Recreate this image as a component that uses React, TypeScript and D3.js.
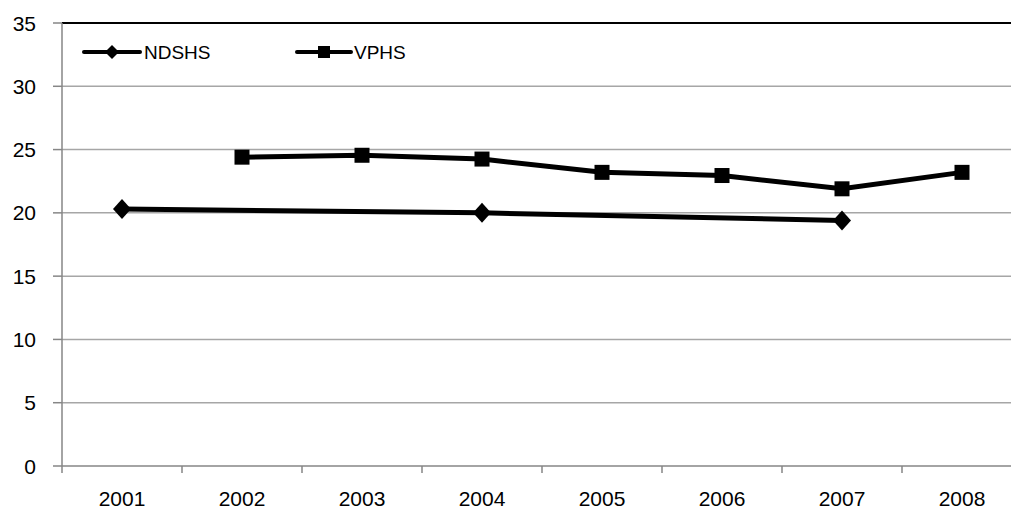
import React from "react";
import * as d3 from "d3";

const years = ["2001", "2002", "2003", "2004", "2005", "2006", "2007", "2008"];
const ndshs: (number | null)[] = [20.3, null, null, 20.0, null, null, 19.4, null];
const vphs: (number | null)[] = [null, 24.4, 24.55, 24.25, 23.2, 22.95, 21.9, 23.2];
const yTicks = [0, 5, 10, 15, 20, 25, 30, 35];

const W = 1011;
const H = 517;
const left = 62;
const top = 23;
const bottom = 466;
const band = 120;

export default function App() {
  const x = d3
    .scaleBand<string>()
    .domain(years)
    .range([left, left + band * years.length]);
  const y = d3.scaleLinear().domain([0, 35]).range([bottom, top]);
  const cx = (yr: string) => (x(yr) as number) + x.bandwidth() / 2;

  const pts = (arr: (number | null)[]) =>
    years
      .map((yr, i) => ({ yr, v: arr[i] }))
      .filter((d) => d.v !== null) as { yr: string; v: number }[];

  const line = d3
    .line<{ yr: string; v: number }>()
    .x((d) => cx(d.yr))
    .y((d) => y(d.v));

  const nd = pts(ndshs);
  const vp = pts(vphs);
  const font = "'Liberation Sans', Arial, sans-serif";

  const diamond = (px: number, py: number, rx: number, ry: number) =>
    `M${px},${py - ry}L${px + rx},${py}L${px},${py + ry}L${px - rx},${py}Z`;

  return (
    <svg
      width={W}
      height={H}
      style={{ position: "absolute", left: 0, top: 0, background: "#fff" }}
    >
      {yTicks.map((t) => (
        <g key={t}>
          {t > 0 && t < 35 && (
            <line x1={left} x2={W} y1={y(t)} y2={y(t)} stroke="#a6a6a6" strokeWidth={1.5} />
          )}
          <line x1={left - 9} x2={left} y1={y(t)} y2={y(t)} stroke="#868686" strokeWidth={1.5} />
          <text
            x={36}
            y={y(t)}
            textAnchor="end"
            dominantBaseline="central"
            fontFamily={font}
            fontSize={21}
            fill="#000"
          >
            {t}
          </text>
        </g>
      ))}
      <line x1={left} x2={W} y1={top} y2={top} stroke="#000" strokeWidth={2} />
      <line x1={left} x2={left} y1={top} y2={bottom + 7} stroke="#868686" strokeWidth={1.5} />
      <line x1={left} x2={W} y1={bottom} y2={bottom} stroke="#868686" strokeWidth={1.5} />
      {years.map((yr) => (
        <g key={yr}>
          <line
            x1={(x(yr) as number) + band}
            x2={(x(yr) as number) + band}
            y1={bottom}
            y2={bottom + 7}
            stroke="#868686"
            strokeWidth={1.5}
          />
          <text
            x={cx(yr)}
            y={498}
            textAnchor="middle"
            dominantBaseline="central"
            fontFamily={font}
            fontSize={21}
            fill="#000"
          >
            {yr}
          </text>
        </g>
      ))}
      <path d={line(nd) || ""} fill="none" stroke="#000" strokeWidth={5} />
      <path d={line(vp) || ""} fill="none" stroke="#000" strokeWidth={5} />
      {nd.map((d) => (
        <path key={d.yr} d={diamond(cx(d.yr), y(d.v), 9, 10)} fill="#000" />
      ))}
      {vp.map((d) => (
        <rect key={d.yr} x={cx(d.yr) - 7.5} y={y(d.v) - 7.5} width={15} height={15} fill="#000" />
      ))}
      <line x1={84} x2={140} y1={52} y2={52} stroke="#000" strokeWidth={4} strokeLinecap="round" />
      <path d={diamond(112, 52, 7, 7)} fill="#000" />
      <text x={144} y={52} dominantBaseline="central" fontFamily={font} fontSize={19} fill="#000">
        NDSHS
      </text>
      <line x1={297} x2={351} y1={52} y2={52} stroke="#000" strokeWidth={4} strokeLinecap="round" />
      <rect x={318} y={46} width={12} height={12} fill="#000" />
      <text x={354} y={52} dominantBaseline="central" fontFamily={font} fontSize={19} fill="#000">
        VPHS
      </text>
    </svg>
  );
}
